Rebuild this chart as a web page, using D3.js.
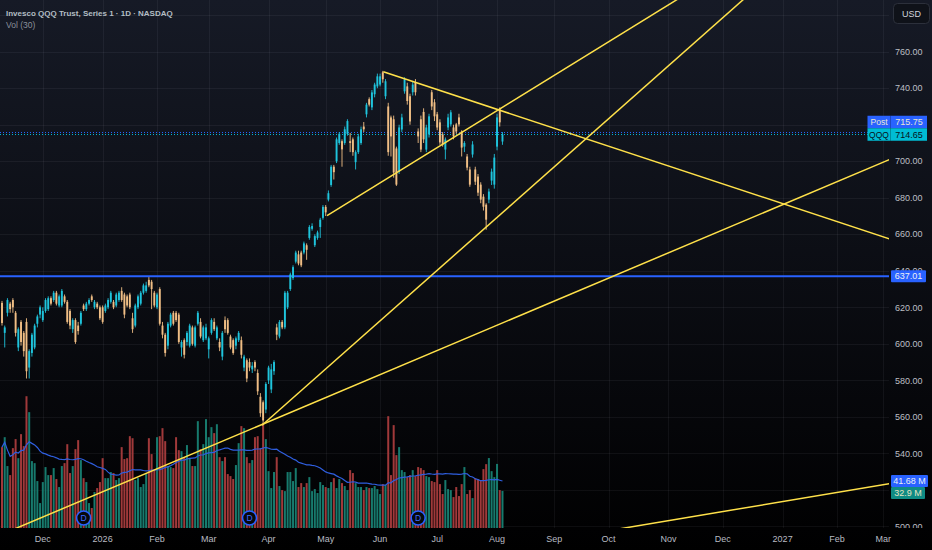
<!DOCTYPE html>
<html><head><meta charset="utf-8">
<script src="https://cdn.jsdelivr.net/npm/d3@7"></script>
<style>html,body{margin:0;padding:0;background:#000;overflow:hidden}text{font-family:"Liberation Sans",Arial,sans-serif}</style>
</head><body>
<svg id="c" width="932" height="550"></svg>
<script>
// ---- DATA ----
const openP=[622.4,606,617,622,624,617,598,612,606,612,587,595,598,611,616,613,618,619,625,624,628,621,621,626,623,618,608,613,610,611,621,619,622,626,620,622,620,620,618,620,623,623,621,624,629,627,626,627,614,610,620,622,628,629,635,634,628,620,630,610,605,599,610,617,617,616,598,602,601,599,609,599,611,612,602,603,597,606,612,603,601,593,613,613,604,602,599,602,602,587,591,590,586,590,584,571,568,564,580,575,585,609,604,612,609,620,630,636,645,649,650,650,654,658,663,654,658,664,669,675,679,687,697,700,710,711,710,715,711,712,699.5,705,710,719,725.7,734,729.5,736.7,741,742,748.7,735.6,730,724,723,707,694.3,717.4,738.3,741,735.6,737.8,743,716.3,723,727,706.4,714.7,737.8,732.3,725.7,721.3,714.7,706.4,718.5,720.2,718.5,720.2,724,716.3,708,702.6,695.5,703.7,695.5,691.6,687.2,680.6,676.2,679,689.4,687.2,708,728.4,710.8];
const highP=[623.5,610,625,623,625,618,609,613,607,614,597,606,611,616,621,620,625,626,626,629,629,627,630,627,624,619,614,614,612,618,622,623,625,627,624,623,621,621,622,625,629,624,628,629,631,628,627,628,617,622,627,629,633,634,636.5,635,629,628,631,612,606,612,617,618,618,617,602,603,607,611,610,610,618,614,610,611,604,614,614,610,603,607,615,614,605,603,604,607,604,594,592,592,590,591,586,573,569,579,588,589,591,611,613,613,629,629,639,643,651,651,651,656,655,665,666,660,662,669,676,676,684,698,698,713,716,712,719,723,715.5,713,706,715,719,721.5,732,735,739,743,748,748,749.5,745,732,725,725,708,720,726,746,743,737,744,745,718,725,729,720,726,739,734,727,723,716,713,726,728,720,721,726,717,711,704,697,711,697,693,688.5,682,677,685,696,704,726,729.5,716];
const lowP=[610,598,615,617,617,604,596,599,593,581,581,593,597,609,614,612,617,618,621,623,621,620,620,622,611,608,606,600,605,610,618,618,621,623,619,619,613,611,617,619,622,619,620,623,623,614,620,619,606,609,619,621,627,628,631,619,620,619,610,603,593,597,609,610,612,600,593,592,599,598,599,598,610,603,601,602,592,605,607,602,596,591,606,605,597,594,597,601,592,585,579,585,584,585,572,560,555.5,562,578,573,583,602,603,608,608,619,629,635,644,643,642,649,646,657,662,653,657,658,668,670,678,686,690,699,709,697,709,714,705,703,695.5,704,709,716,724,730,728,735,740,741,743,734,703,702.6,691,686.5,693,716,737,731,720,736,736,710,705,710,705,713,728,722,717,709,708,701,717,719,712,715,719,702.6,705,695,686,702,687,681,677,673,662.5,677,687,685,706,719,709];
const closeP=[611.4,609,624,619,620,606,608,601,596,585,596,605,610,615,620,618,624,625,622,628,622,626,629,623,612,610,613,601,607,617,619,622,624,624,623,620,614,612,621,624,628,620,627,628,624,616,621,620,608,621,626,628,632,632,632,630,621,627,611,605,595,611,616,611,613,601,601,594,606,610,600,609,617,604,609,609,603,613,608,609,598,606,608,606,598,595,603,606,594,593,581,587,588,587,574,562,558,578,587,586,590,605,612,609,628,628,638,642,650,644,643,655,651.5,664,664.5,659,661,668,675,672,682.5,697,694,712,715,706.5,717.5,722,710,705,705,713.6,717.5,717.5,731,731,737.7,742,746.5,746.5,744.9,743.8,705,713.6,693.8,687.2,718.5,724,744.9,733,721.8,742,737.8,713.6,706.4,712,718.5,724.6,730,724.6,718.5,710.3,709.2,711.9,724,726.8,713.6,716.3,720.2,707.5,710,696.5,687.2,709.2,688.8,682.8,679,675.1,668,683.4,694.3,702,724,721.3,714.65];
const volumeM=[71.7,80.5,54.9,46.9,70.8,78.8,61.9,83.2,72.6,116.8,102.7,59.3,57.5,41.6,22.1,40.7,54.0,46.9,46.9,53.1,43.4,36.3,54.9,57.5,74.3,48.7,54.9,69.9,77.9,60.2,44.2,40.7,22.1,17.7,31.9,35.4,40.7,61.9,44.2,44.2,49.6,48.7,42.5,44.2,71.7,61.1,61.9,81.4,79.6,42.5,44.2,36.3,38.9,47.8,79.6,65.5,51.3,80.5,81.4,88.5,77.0,54.9,54.0,53.1,80.5,69.0,68.1,62.8,73.5,61.9,54.9,54.9,94.7,69.9,74.3,96.5,80.5,89.4,84.1,92.0,62.8,59.3,62.8,47.8,46.0,43.4,55.8,75.2,90.3,88.5,62.8,
57.5,60.2,80.5,81.4,70.8,92.9,78.8,50.4,35.4,49.6,62.8,37.2,33.6,32.7,49.6,49.6,41.6,53.1,36.3,39.8,36.3,39.8,45.1,32.7,34.5,31.0,40.7,38.1,36.3,35.4,40.7,44.2,35.4,43.4,39.8,37.2,33.6,51.3,48.7,39.8,36.3,36.3,33.6,36.3,35.4,35.4,37.2,34.5,30.1,38.9,38.1,99.1,46.9,91.2,64.6,71.7,51.3,49.6,45.1,46.9,51.3,46.0,54.0,53.1,51.3,46.0,45.1,41.6,40.7,51.3,38.9,30.1,42.5,34.5,33.6,27.4,36.3,28.3,38.9,54.0,30.1,33.6,26.5,44.2,43.4,42.5,52.2,56.6,62.0,50.4,45.1,56.8,33.6,32.9];
const timeLabels=["Dec","2026","Feb","Mar","Apr","May","Jun","Jul","Aug","Sep","Oct","Nov","Dec","2027","Feb","Mar"];
const timeBars=[15,37,57,76,98,119,139,160,182,203,223,245,265,287,307,324];
// 720 and 520 are hidden behind the price/volume labels in the reference
const priceTicks=[500,540,560,580,600,620,640,660,680,700,740,760];
const gridPrices=[500,520,540,560,580,600,620,640,660,680,700,720,740,760,780];
const dividendBars=[30,91,153];
const levelLine=637.01;
const postPrice=715.75;
const volMaLen=30;
// trend lines: anchor bar index / price pairs, extension mode
const lineStarts=[[21.3,509.1],[95.6,555.4],[119.5,670.2],[140.2,749.0],[227.6,498.8]];
const lineEnds=[[94.9,555.4],[172.7,657.0],[186.8,732.1],[325.4,657.9],[325.4,523.2]];
const lineExtend=["both","right","right","right","both"];

// ---- CHART ----
const W=932,H=550,paneR=889,paneB=528;
const svg=d3.select("#c");
const defs=svg.append("defs");
const g=defs.append("linearGradient").attr("id","bg").attr("x1",0).attr("y1",0).attr("x2",0).attr("y2",1);
g.append("stop").attr("offset","0%").attr("stop-color","#161a26");
g.append("stop").attr("offset","96%").attr("stop-color","#010102");
g.append("stop").attr("offset","100%").attr("stop-color","#000");
defs.append("clipPath").attr("id","pane").append("rect").attr("x",0).attr("y",0).attr("width",paneR).attr("height",paneB);
defs.append("clipPath").attr("id","axisclip").append("rect").attr("x",paneR).attr("y",0).attr("width",W-paneR).attr("height",paneB);
svg.append("rect").attr("width",W).attr("height",H).attr("fill","url(#bg)");

const n=closeP.length;
const x=d3.scaleLinear().domain([0,184]).range([2,2+184*2.72]);
const y=d3.scaleLinear().domain([500,760]).range([526.4,51.7]);
const v=d3.scaleLinear().domain([0,117]).range([paneB,paneB-132]);

const pane=svg.append("g").attr("clip-path","url(#pane)");
// grid
pane.selectAll(".hg").data(gridPrices).join("line").attr("x1",0).attr("x2",paneR)
  .attr("y1",d=>Math.round(y(d))+0.5).attr("y2",d=>Math.round(y(d))+0.5).attr("stroke","rgba(235,240,255,0.055)");
pane.selectAll(".vg").data(timeBars).join("line").attr("y1",0).attr("y2",paneB)
  .attr("x1",d=>Math.round(x(d))+0.5).attr("x2",d=>Math.round(x(d))+0.5).attr("stroke","rgba(235,240,255,0.055)");

const idx=d3.range(n);
const up=i=>closeP[i]>=openP[i];
// volume
pane.selectAll(".vb").data(idx).join("rect")
  .attr("x",i=>x(i)-1).attr("width",2).attr("y",i=>v(volumeM[i])).attr("height",i=>paneB-v(volumeM[i]))
  .attr("fill",i=>up(i)?"#177a6d":"#a0393a");
// volume MA
const ma=idx.map(i=>{const s=volumeM.slice(Math.max(0,i-volMaLen+1),i+1);return d3.mean(s);});
pane.append("path").datum(idx).attr("fill","none").attr("stroke","#2f5fe0").attr("stroke-width",1.2)
  .attr("d",d3.line().x(i=>x(i)).y(i=>v(ma[i])));

// level line
pane.append("line").attr("x1",0).attr("x2",paneR).attr("y1",y(levelLine)).attr("y2",y(levelLine))
  .attr("stroke","#2962ff").attr("stroke-width",2);
// price lines
const lastClose=closeP[n-1];
pane.append("line").attr("x1",0).attr("x2",paneR).attr("y1",y(postPrice)).attr("y2",y(postPrice))
  .attr("stroke","#2962ff").attr("stroke-width",1).attr("stroke-dasharray","1,2");
pane.append("line").attr("x1",0).attr("x2",paneR).attr("y1",y(lastClose)).attr("y2",y(lastClose))
  .attr("stroke","#00bcd4").attr("stroke-width",1).attr("stroke-dasharray","1,2");

// candles
const upC="#1fc4dc",dnC="#f0be85";
pane.selectAll(".wk").data(idx).join("line")
  .attr("x1",i=>x(i)).attr("x2",i=>x(i)).attr("y1",i=>y(highP[i])).attr("y2",i=>y(lowP[i]))
  .attr("stroke",i=>up(i)?upC:dnC).attr("stroke-width",0.9);
pane.selectAll(".bd").data(idx).join("rect")
  .attr("x",i=>x(i)-0.95).attr("width",1.9)
  .attr("y",i=>y(Math.max(openP[i],closeP[i])))
  .attr("height",i=>Math.max(1,Math.abs(y(openP[i])-y(closeP[i]))))
  .attr("fill",i=>up(i)?upC:dnC);

// trend lines
const farL=x.invert(-20),farR=x.invert(paneR+20);
lineStarts.forEach((a,k)=>{
  const b=lineEnds[k];const s=(b[1]-a[1])/(b[0]-a[0]);
  const x0=lineExtend[k]==="both"?farL:a[0];
  const x1=farR;
  pane.append("line").attr("x1",x(x0)).attr("y1",y(a[1]+s*(x0-a[0])))
    .attr("x2",x(x1)).attr("y2",y(a[1]+s*(x1-a[0])))
    .attr("stroke","#ffe14a").attr("stroke-width",1.5);
});

// dividend markers
const dm=pane.selectAll(".dv").data(dividendBars).join("g").attr("transform",d=>`translate(${x(d)},${paneB-10})`);
dm.append("circle").attr("r",7).attr("fill","#07080b").attr("stroke","#2962ff").attr("stroke-width",1.6);
dm.append("text").attr("text-anchor","middle").attr("y",3).attr("font-size",8.5).attr("fill","#3d6cff").text("D");

// header
svg.append("text").attr("x",6).attr("y",16).attr("font-size",8).attr("font-weight","bold").attr("fill","#b3bec4")
  .text("Invesco QQQ Trust, Series 1 · 1D · NASDAQ");
svg.append("text").attr("x",6).attr("y",27.5).attr("font-size",8.5).attr("fill","#8a909a").text("Vol (30)");

// time axis
svg.selectAll(".tl").data(timeBars).join("text").attr("x",d=>x(d)).attr("y",542).attr("text-anchor","middle")
  .attr("font-size",9).attr("fill","#b8bbc2").text((d,i)=>timeLabels[i]);

// price axis
const ax=svg.append("g").attr("clip-path","url(#axisclip)");
ax.selectAll(".pt").data(priceTicks).join("text").attr("x",895).attr("y",d=>y(d)+3.2)
  .attr("font-size",9).attr("fill","#bdbfc4").text(d=>d.toFixed(2));

function box(px,yc,w,fill,txt,tc){
  ax.append("rect").attr("x",px).attr("y",yc-6).attr("width",w).attr("height",12).attr("rx",1).attr("fill",fill);
  ax.append("text").attr("x",px+w/2).attr("y",yc+3.2).attr("text-anchor","middle").attr("font-size",9).attr("fill",tc).text(txt);
}
box(891,y(levelLine),35,"#2962ff",levelLine.toFixed(2),"#eef0f5");
// volume labels
const maLast=ma[n-1],volLast=volumeM[n-1];
const maY=v(maLast);let vlY=v(volLast);if(vlY-maY<12)vlY=maY+12;
box(891,maY,37,"#2962ff",maLast.toFixed(2)+" M","#eef0f5");
box(891,vlY,34,"#0f8b84",volLast.toFixed(1)+" M","#e6e4c2");

// last price / post labels (span pane edge)
const overlay=svg.append("g");
const qY=y(lastClose);let pY=y(postPrice);if(qY-pY<12.5)pY=qY-12.5;
function dbl(yc,fill,l,r,tc){
  overlay.append("rect").attr("x",867.5).attr("y",yc-6.25).attr("width",59.5).attr("height",12.5).attr("fill",fill);
  overlay.append("line").attr("x1",890.5).attr("x2",890.5).attr("y1",yc-6.25).attr("y2",yc+6.25).attr("stroke","rgba(0,0,0,0.25)");
  overlay.append("text").attr("x",879).attr("y",yc+3.2).attr("text-anchor","middle").attr("font-size",8.5).attr("fill",tc).text(l);
  overlay.append("text").attr("x",909).attr("y",yc+3.2).attr("text-anchor","middle").attr("font-size",9).attr("fill",tc).text(r);
}
dbl(pY,"#2962ff","Post",postPrice.toFixed(2),"#e9e7d2");
dbl(qY,"#00bcd4","QQQ",lastClose.toFixed(2),"#07121a");

// USD button
overlay.append("rect").attr("x",893.5).attr("y",3.5).attr("width",36).attr("height",20).attr("rx",4)
  .attr("fill","#0f1219").attr("stroke","#2c303b");
overlay.append("text").attr("x",911.5).attr("y",16.5).attr("text-anchor","middle").attr("font-size",9).attr("fill","#d1d4dc").text("USD");
</script>
</body></html>
